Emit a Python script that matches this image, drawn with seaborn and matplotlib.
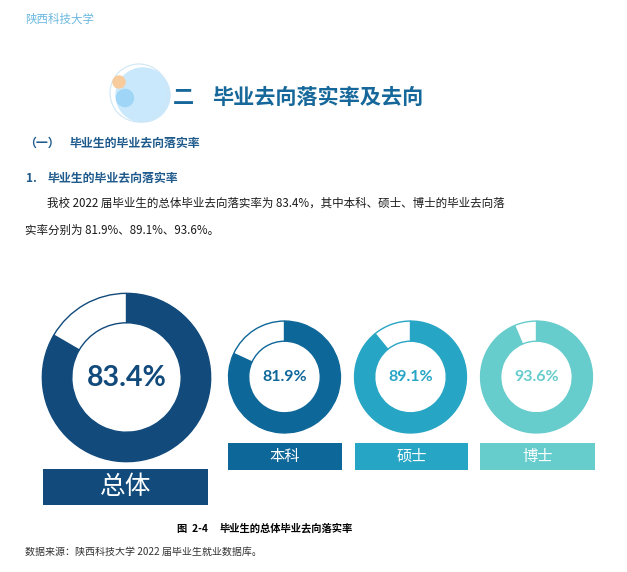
import matplotlib
matplotlib.use("Agg")
import matplotlib.pyplot as plt
import seaborn as sns
from matplotlib.patches import Circle, Rectangle

# 数据
groups = ["总体", "本科", "硕士", "博士"]
rates = [83.4, 81.9, 89.1, 93.6]
colors = ["#114a7b", "#0e6799", "#26a5c4", "#66cccc"]

sns.set_theme(style="white")
plt.rcParams["font.family"] = ["Noto Sans CJK SC", "DejaVu Sans"]

W, H = 627, 572
fig = plt.figure(figsize=(W / 100, H / 100), dpi=100)
fig.patch.set_facecolor("white")

ax = fig.add_axes([0, 0, 1, 1])
ax.set_xlim(0, W)
ax.set_ylim(H, 0)
ax.axis("off")

# 页眉
ax.text(25, 19, "陕西科技大学", color="#6ab8e0", fontsize=8.3, va="center")

# 标题装饰圆
ax.add_patch(Circle((143, 95), 27, color="#c9e8fb", zorder=1))
ax.add_patch(Circle((139, 93), 29, fill=False, ec="#cfe6f5", lw=0.8, zorder=1))
ax.add_patch(Circle((119, 82), 6, color="#f8cb9c", zorder=2))
ax.add_patch(Circle((125, 98), 8.5, color="#9fd5f7", zorder=2))

title_c = "#17689a"
ax.text(173, 97, "二", color=title_c, fontsize=15.2, fontweight="bold", va="center")
ax.text(212, 97, "毕业去向落实率及去向", color=title_c, fontsize=15.2, fontweight="bold", va="center")

head_c = "#1e5a8c"
ax.text(24, 143, "（一）", color=head_c, fontsize=8.6, fontweight="bold", va="center")
ax.text(70, 143, "毕业生的毕业去向落实率", color=head_c, fontsize=8.6, fontweight="bold", va="center")
ax.text(26, 178, "1.", color=head_c, fontsize=8.6, fontweight="bold", va="center")
ax.text(47, 178, "毕业生的毕业去向落实率", color=head_c, fontsize=8.6, fontweight="bold", va="center")

para1 = f"我校 2022 届毕业生的总体毕业去向落实率为 {rates[0]}%，其中本科、硕士、博士的毕业去向落"
para2 = f"实率分别为 {rates[1]}%、{rates[2]}%、{rates[3]}%。"
ax.text(47, 203, para1, color="#1a1a1a", fontsize=8.3, va="center")
ax.text(25, 230, para2, color="#1a1a1a", fontsize=8.3, va="center")

# 环形图位置 (中心x, 中心y, 半径, 环宽比例)
donuts = [(126.5, 377.5, 84, 0.35), (284.5, 377, 55.5, 0.36),
          (410.5, 377, 55.5, 0.36), (536.5, 377, 55.5, 0.36)]
boxes = [(43, 469, 165, 36), (228, 443, 114, 27), (355, 443, 113, 27), (480, 443, 115, 27)]

for i, (g, r, c) in enumerate(zip(groups, rates, colors)):
    cx, cy, rad, wd = donuts[i]
    dax = fig.add_axes([(cx - rad - 1) / W, 1 - (cy + rad + 1) / H, (2 * rad + 2) / W, (2 * rad + 2) / H])
    dax.pie([r, 100 - r], colors=[c, "white"], startangle=90, counterclock=False,
            radius=1, wedgeprops=dict(width=wd, edgecolor=c, linewidth=1))
    dax.set_xlim(-1.01, 1.01)
    dax.set_ylim(-1.01, 1.01)
    dax.set_aspect("equal")
    dax.axis("off")
    fs = 20.5 if i == 0 else 11.5
    dax.text(0, 0, f"{r}%", color=c, fontsize=fs, fontweight="bold",
             family=["Lato", "DejaVu Sans"], ha="center", va="center")

    bx, by, bw, bh = boxes[i]
    ax.add_patch(Rectangle((bx, by), bw, bh, color=c, lw=0))
    ax.text(bx + bw / 2, by + bh / 2, g, color="white", fontsize=18.5 if i == 0 else 11,
            ha="center", va="center")

# 图题与来源
ax.text(177, 529, "图  2-4", color="black", fontsize=7.4, fontweight="bold", va="center")
ax.text(220, 529, "毕业生的总体毕业去向落实率", color="black", fontsize=7.4, fontweight="bold", va="center")
ax.text(25, 552, "数据来源：陕西科技大学 2022 届毕业生就业数据库。", color="#333333", fontsize=7.2, va="center")

fig.savefig("out.png", dpi=100, facecolor="white")
